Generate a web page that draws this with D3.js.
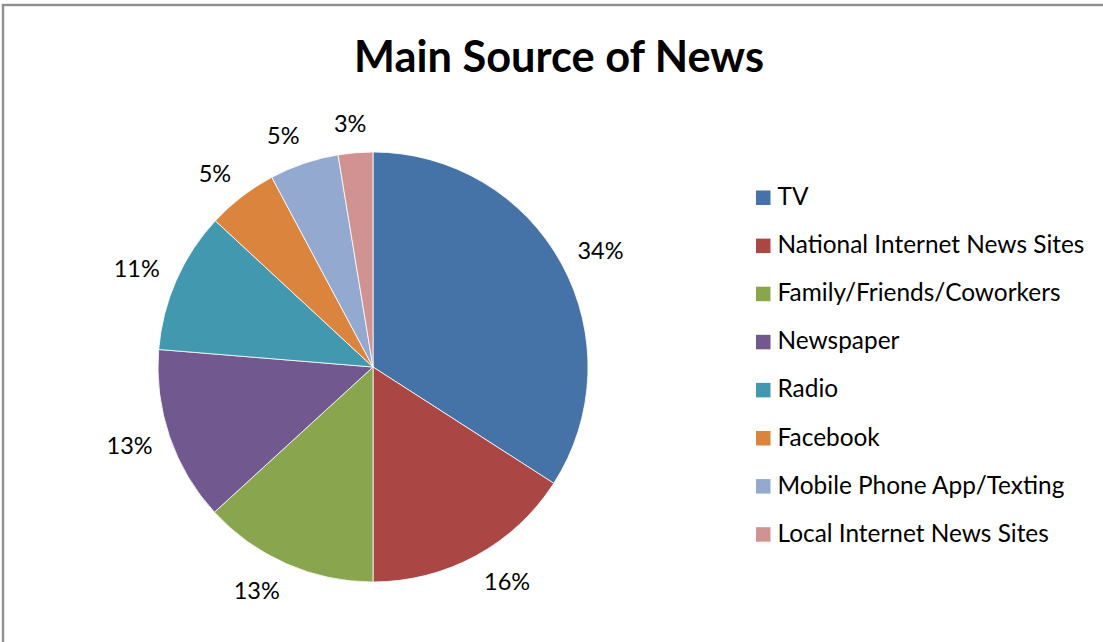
<!DOCTYPE html>
<html>
<head>
<meta charset="utf-8">
<script src="https://cdn.jsdelivr.net/npm/d3@7"></script>
<style>
  html, body { margin: 0; padding: 0; background: #fff; }
  svg { display: block; }
  text { font-family: Lato, "Open Sans", sans-serif; fill: #000; }
</style>
</head>
<body>
<svg id="chart" width="1103" height="642"></svg>
<script>
// ---- data ----
const title = "Main Source of News";
const categories = [
  "TV",
  "National Internet News Sites",
  "Family/Friends/Coworkers",
  "Newspaper",
  "Radio",
  "Facebook",
  "Mobile Phone App/Texting",
  "Local Internet News Sites"
];
const values = [34.1, 15.9, 13.2, 13.1, 10.6, 5.3, 5.2, 2.6];
const valueLabels = ["34%", "16%", "13%", "13%", "11%", "5%", "5%", "3%"];
const palette = ["#4572A7", "#AA4643", "#89A54E", "#71588F", "#4198AF", "#DB843D", "#93A9CF", "#D19392"];

// ---- layout ----
const svg = d3.select("#chart");
const cx = 373, cy = 367, R = 215;

// border (only top/left visible in frame)
svg.append("rect")
  .attr("x", 3).attr("y", 5)
  .attr("width", 1200).attr("height", 800)
  .attr("fill", "none")
  .attr("stroke", "#8f8f8f")
  .attr("stroke-width", 2.4);

function fitFont(sel, targetWidth, trialSize) {
  sel.style("font-size", trialSize + "px");
  const w = sel.node().getComputedTextLength();
  const size = trialSize * targetWidth / w;
  sel.style("font-size", size + "px");
  return size;
}

// title
const t = svg.append("text")
  .attr("x", 559).attr("y", 72)
  .attr("text-anchor", "middle")
  .style("font-weight", "bold")
  .text(title);
fitFont(t, 410, 40);

// pie
const color = d3.scaleOrdinal().domain(categories).range(palette);
const pie = d3.pie().sort(null).value(d => d.value);
const arcs = pie(categories.map((c, i) => ({ name: c, value: values[i], label: valueLabels[i] })));
const arc = d3.arc().innerRadius(0).outerRadius(R);

const g = svg.append("g").attr("transform", `translate(${cx},${cy})`);
g.selectAll("path.slice")
  .data(arcs)
  .join("path")
  .attr("class", "slice")
  .attr("d", arc)
  .attr("fill", d => color(d.data.name))
  .attr("stroke", "#ffffff")
  .attr("stroke-width", 0.8)
  .attr("stroke-linejoin", "round");

// labels: outside end, box touching an offset circle
const labelSize = 23.5;
const anchorR = R + 19;
const halfH = 10;
g.selectAll("text.lbl")
  .data(arcs)
  .join("text")
  .attr("class", "lbl")
  .attr("text-anchor", "middle")
  .style("font-size", labelSize + "px")
  .text(d => d.data.label)
  .each(function (d) {
    const w = this.getComputedTextLength();
    const mid = (d.startAngle + d.endAngle) / 2;
    const ux = Math.sin(mid), uy = -Math.cos(mid);
    const fx = Math.sign(ux) * Math.min(1, Math.abs(ux) * 3);
    const fy = uy;
    const x = ux * anchorR + fx * (w / 2 - 1);
    const y = uy * anchorR + fy * halfH;
    d3.select(this)
      .attr("x", x)
      .attr("y", y + labelSize * 0.36);
  });

// legend
const legendX = 756, legendY0 = 205, legendStep = 48.1;
const legend = svg.append("g");
const items = legend.selectAll("g.item")
  .data(categories)
  .join("g")
  .attr("class", "item")
  .attr("transform", (d, i) => `translate(${legendX},${legendY0 + i * legendStep})`);
items.append("rect")
  .attr("x", 0).attr("y", -14.5)
  .attr("width", 14.5).attr("height", 14.5)
  .attr("fill", d => color(d));
const legTexts = items.append("text")
  .attr("x", 21.5).attr("y", 0)
  .text(d => d);
const legendSize = (function () {
  const tmp = svg.append("text").text(categories[1]);
  const s = fitFont(tmp, 307, 24);
  tmp.remove();
  return s;
})();
legTexts.style("font-size", legendSize + "px");
</script>
</body>
</html>
